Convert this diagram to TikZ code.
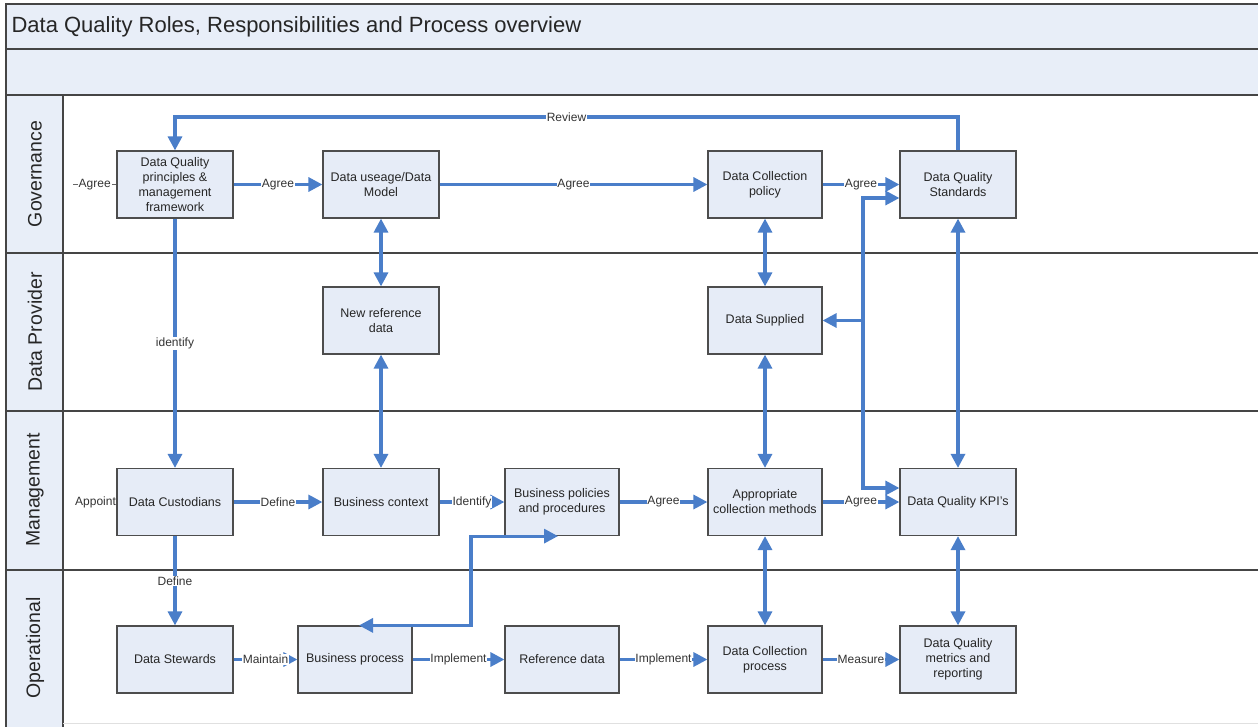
\documentclass[tikz,border=0pt]{standalone}
\usepackage{fontspec}
\setmainfont{Liberation Sans}
\usetikzlibrary{arrows.meta,calc}
\definecolor{boxfill}{HTML}{E6ECF7}
\definecolor{bandfill}{HTML}{E8EEF8}
\definecolor{arrowblue}{HTML}{4A7EC9}
\definecolor{boxline}{HTML}{4D4D4D}
\definecolor{laneline}{HTML}{454545}
\definecolor{lbltext}{HTML}{333333}
\tikzset{
  box/.style={draw=boxline, line width=1.2pt, fill=boxfill, minimum width=116pt, minimum height=67pt,
    align=center, font=\fontsize{12.5}{15}\selectfont, inner sep=2pt, text=black!85},
  nbox/.style={box, minimum width=114pt},
  flow/.style={draw=arrowblue, line width=3.2pt, -{Triangle[length=14pt,width=14pt]}},
  bflow/.style={draw=arrowblue, line width=3.2pt, {Triangle[length=14pt,width=14pt]}-{Triangle[length=14pt,width=14pt]}},
  lbl/.style={fill=white, inner sep=0.8pt, font=\fontsize{12}{14}\selectfont, text=lbltext},
  lane/.style={draw=laneline, line width=1.8pt},
  lanelabel/.style={rotate=90, font=\fontsize{19.5}{22}\selectfont, text=black!85},
}
\begin{document}
\begin{tikzpicture}[x=1pt,y=-1pt]
\clip (0,0) rectangle (1258,726);
\useasboundingbox (0,0) rectangle (1258,726);
% frame and bands
\fill[white] (0,0) rectangle (1258,726);
\fill[bandfill] (6,95) rectangle (63,730);
\draw[lane, fill=bandfill] (6,4) rectangle (1270,49);
\draw[lane, fill=bandfill] (6,49) rectangle (1270,95);
\draw[lane] (6,95) -- (6,730);
\draw[lane] (63,95) -- (63,730);
\draw[lane] (6,253) -- (1270,253);
\draw[lane] (6,411) -- (1270,411);
\draw[lane] (6,570) -- (1270,570);
\draw[black!12, line width=1pt] (63,723) -- (1270,723);
\node[anchor=west, font=\fontsize{22}{26}\selectfont, text=black!85] (title) at (8,27) {Data Quality Roles, Responsibilities and Process overview};
% lane labels
\node[lanelabel] (lgov) at (35,174) {Governance};
\node[lanelabel] (lprov) at (35,332) {Data Provider};
\node[lanelabel] (lman) at (35,490) {Management};
\node[lanelabel] (lop) at (35,648) {Operational};
% boxes
\node[box] (dqp) at (175,184.5) {Data Quality\\principles \&\\management\\framework};
\node[box] (dum) at (381,184.5) {Data useage/Data\\Model};
\node[nbox] (dcp) at (765,184.5) {Data Collection\\policy};
\node[box] (dqs) at (958,184.5) {Data Quality\\Standards};
\node[box] (nrd) at (381,320.5) {New reference\\data};
\node[nbox] (dsu) at (765,320.5) {Data Supplied};
\node[box] (dcu) at (175,502) {Data Custodians};
\node[box] (bct) at (381,502) {Business context};
\node[nbox] (bpp) at (562,502) {Business policies\\and procedures};
\node[nbox] (acm) at (765,502) {Appropriate\\collection methods};
\node[box] (kpi) at (958,502) {Data Quality KPI's};
\node[box] (dst) at (175,659.5) {Data Stewards};
\node[nbox] (bpr) at (355,659.5) {Business process};
\node[nbox] (rfd) at (562,659.5) {Reference data};
\node[nbox] (dcpr) at (765,659.5) {Data Collection\\process};
\node[box] (dqm) at (958,659.5) {Data Quality\\metrics and\\reporting};
% coordinates
\coordinate (ain) at (73,184.5);
\coordinate (rv) at (0,117);
\coordinate (j) at (863,320.5);
\coordinate (k) at (471,0);
% governance flows
\draw[draw=black!60, line width=0.8pt] (ain) -- node[lbl] (lagree0) {Agree} (dqp.west);
\draw[flow] (dqp) -- node[lbl] (lagree1) {Agree} (dum);
\draw[flow] (dum) -- node[lbl] (lagree2) {Agree} (dcp);
\draw[flow] (dcp) -- node[lbl] (lagree3) {Agree} (dqs);
\draw[flow] (dqs.north) -- (dqs.north |- rv) -- node[lbl] (lreview) {Review} (dqp.north |- rv) -- (dqp.north);
\draw[flow] (dqp) -- node[lbl] (lident) {identify} (dcu);
% vertical double arrows
\draw[bflow] (dum) -- (nrd);
\draw[bflow] (nrd) -- (bct);
\draw[bflow] (dcp) -- (dsu);
\draw[bflow] (dsu) -- (acm);
\draw[bflow] (dqs) -- (kpi);
\draw[bflow] (acm) -- (dcpr);
\draw[bflow] (kpi) -- (dqm);
% branching connector
\draw[flow] (j) -- (dsu.east |- j);
\draw[flow] (j) |- ([yshift=-13.5pt]dqs.west);
\draw[flow] (j) |- ([yshift=14pt]kpi.west);
% management flows
\node[lbl, anchor=east, inner sep=0.3pt] (lappoint) at (dcu.west) {Appoint};
\draw[flow] (dcu) -- node[lbl] (ldef1) {Define} (bct);
\draw[flow] (bct) -- node[lbl] (lidf) {Identify} (bpp);
\draw[flow] (bpp) -- node[lbl] (lagree4) {Agree} (acm);
\draw[flow] (acm) -- node[lbl] (lagree5) {Agree} (kpi);
\draw[flow] (dcu) -- node[lbl] (ldef2) {Define} (dst);
\draw[bflow] ([xshift=4pt]bpr.north) -| (k |- bpp.south) -- ([xshift=-4pt]bpp.south);
% operational flows
\draw[flow] (dst) -- node[lbl] (lmaint) {Maintain} (bpr);
\draw[flow] (bpr) -- node[lbl] (limp1) {Implement} (rfd);
\draw[flow] (rfd) -- node[lbl] (limp2) {Implement} (dcpr);
\draw[flow] (dcpr) -- node[lbl] (lmeas) {Measure} (dqm);
\end{tikzpicture}
\end{document}
